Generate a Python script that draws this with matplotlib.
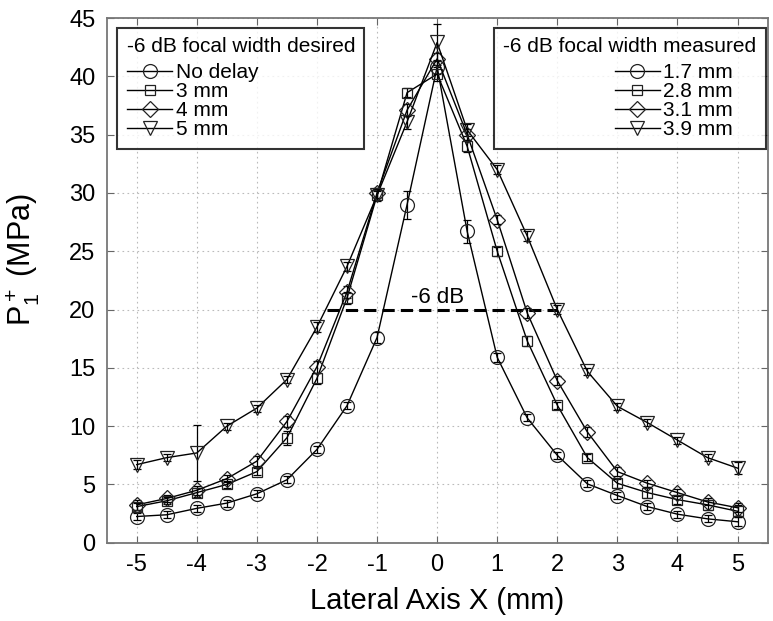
import numpy as np
import matplotlib.pyplot as plt
from matplotlib.lines import Line2D

plt.rcParams['font.family'] = ['Liberation Sans', 'DejaVu Sans']
plt.rcParams['axes.unicode_minus'] = False
plt.rcParams['mathtext.fontset'] = 'custom'
plt.rcParams['mathtext.rm'] = 'Liberation Sans'
plt.rcParams['mathtext.it'] = 'Liberation Sans'

# lateral positions (mm)
x = [-5, -4.5, -4, -3.5, -3, -2.5, -2, -1.5, -1, -0.5, 0,
     0.5, 1, 1.5, 2, 2.5, 3, 3.5, 4, 4.5, 5]

# peak positive pressure (MPa)
no_delay = [2.25, 2.4, 2.95, 3.4, 4.2, 5.4, 8.0, 11.75, 17.6, 29.0, 40.8,
            26.7, 15.9, 10.7, 7.5, 5.05, 4.05, 3.1, 2.45, 2.05, 1.8]
mm3 = [3.1, 3.6, 4.3, 5.0, 6.1, 9.0, 14.1, 21.0, 29.8, 38.6, 40.2,
       34.0, 25.0, 17.3, 11.8, 7.3, 5.1, 4.3, 3.7, 3.25, 2.7]
mm4 = [3.25, 3.8, 4.5, 5.5, 7.0, 10.4, 15.1, 21.5, 30.0, 37.1, 41.5,
       35.0, 27.7, 19.7, 13.9, 9.5, 6.1, 5.1, 4.3, 3.5, 3.0]
mm5 = [6.7, 7.3, 7.7, 10.0, 11.55, 14.0, 18.5, 23.7, 29.8, 36.1, 42.9,
       35.4, 32.0, 26.3, 20.0, 14.7, 11.7, 10.3, 8.8, 7.3, 6.4]

# error bars (MPa)
err_no_delay = [0.3, 0.3, 0.3, 0.3, 0.3, 0.3, 0.3, 0.3, 0.5, 1.2, 0.6,
                1.0, 0.4, 0.3, 0.3, 0.3, 0.3, 0.3, 0.3, 0.3, 0.4]
err_mm3 = [0.3, 0.3, 0.4, 0.3, 0.3, 0.6, 0.5, 0.5, 0.4, 0.4, 0.6,
           0.5, 0.4, 0.4, 0.3, 0.3, 0.4, 0.5, 0.4, 0.4, 0.5]
err_mm4 = [0.4, 0.3, 0.4, 0.3, 0.4, 0.5, 0.5, 0.5, 0.4, 0.5, 0.5,
           0.5, 0.4, 0.4, 0.4, 0.4, 0.4, 0.3, 0.3, 0.3, 0.4]
err_mm5 = [0.4, 0.3, 2.4, 0.3, 0.3, 0.3, 0.4, 0.4, 0.5, 0.6, 1.6,
           0.5, 0.4, 0.4, 0.4, 0.3, 0.3, 0.3, 0.3, 0.3, 0.5]

markers = ['o', 's', 'D', 'v']
desired = ['No delay', '3 mm', '4 mm', '5 mm']
measured = ['1.7 mm', '2.8 mm', '3.1 mm', '3.9 mm']
series = [no_delay, mm3, mm4, mm5]
errors = [err_no_delay, err_mm3, err_mm4, err_mm5]
msizes = [10, 7, 8, 10]

fig = plt.figure(figsize=(7.73, 6.21), dpi=100)
ax = fig.add_axes([0.138, 0.126, 0.855, 0.845])

for y, e, m, ms in zip(series, errors, markers, msizes):
    ax.errorbar(x, y, yerr=e, color='black', lw=1.0, marker=m, ms=ms,
                mfc='none', mec='#222222', mew=0.9, capsize=3,
                elinewidth=0.9, capthick=0.9)

# -6 dB line
ax.plot([-1.83, 2.0], [20, 20], color='black', lw=2.2, ls=(0, (4, 2)))
ax.text(0, 20.15, '-6 dB', ha='center', va='bottom', fontsize=16)

ax.set_xlim(-5.5, 5.5)
ax.set_ylim(0, 45)
ax.set_xticks(range(-5, 6))
ax.set_yticks(range(0, 46, 5))
ax.tick_params(direction='in', top=True, right=True, length=5,
               labelsize=17, color='#666666', pad=8)
ax.grid(True, ls=(0, (1.5, 3)), color='#bbbbbb', lw=0.8)
for sp in ax.spines.values():
    sp.set_color('#777777')
    sp.set_linewidth(1.3)

ax.set_xlabel('Lateral Axis X (mm)', fontsize=21)
ax.xaxis.set_label_coords(0.5, -0.085)
ax.set_ylabel(r'$\mathregular{P_1^+}$ (MPa)', fontsize=22)
ax.yaxis.set_label_coords(-0.1, 0.54)

handles = [Line2D([], [], color='black', lw=1.0, marker=m, ms=ms,
                  mfc='none', mec='#222222', mew=0.9)
           for m, ms in zip(markers, msizes)]

leg_kw = dict(fontsize=15, title_fontsize=15, frameon=True, fancybox=False,
              edgecolor='black', handlelength=2.2, handletextpad=0.15,
              labelspacing=0.0, borderpad=0.45, borderaxespad=0)
leg1 = ax.legend(handles, desired, title='-6 dB focal width desired',
                 loc='upper left', bbox_to_anchor=(0.016, 0.981),
                 alignment='left', **leg_kw)
leg1.get_frame().set_linewidth(1.5)
leg1._legend_box.sep = 5
ax.add_artist(leg1)
leg2 = ax.legend(handles, [s + '    ' for s in measured],
                 title='-6 dB focal width measured',
                 loc='upper right', bbox_to_anchor=(0.997, 0.981),
                 alignment='right', **leg_kw)
leg2.get_frame().set_linewidth(1.5)
leg2._legend_box.sep = 5

fig.savefig('out.png', dpi=100)
